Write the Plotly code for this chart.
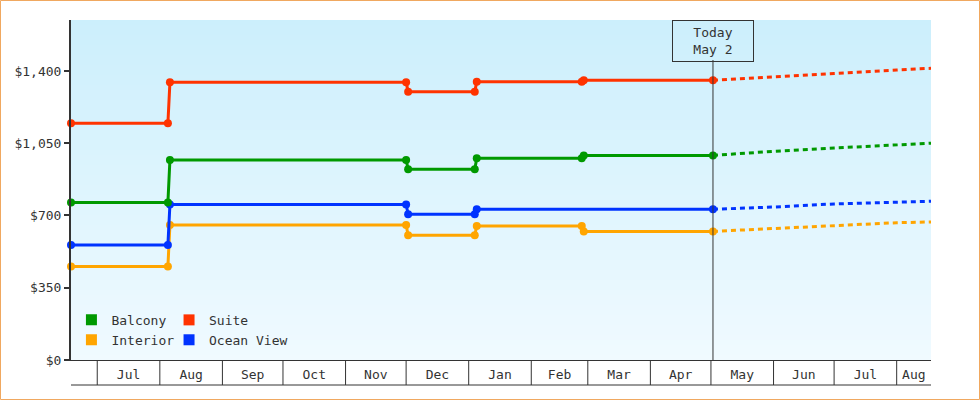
import plotly.graph_objects as go
import pandas as pd

# ---------------- data ----------------
series_names = ["Balcony", "Suite", "Interior", "Ocean View"]
series_colors = ["#009900", "#FF3300", "#FFA500", "#0033FF"]
legend_slot = ["legend", "legend2", "legend", "legend2"]

dates_main = ["2024-06-18", "2024-08-05", "2024-08-06", "2024-12-01", "2024-12-02",
              "2025-01-04", "2025-01-05", "2025-02-26", "2025-02-27", "2025-05-02"]
dates_ocean = ["2024-06-18", "2024-08-05", "2024-08-06", "2024-12-01", "2024-12-02",
               "2025-01-04", "2025-01-05", "2025-05-02"]

balcony_prices = [763, 763, 969, 969, 924, 924, 977, 977, 991, 991]
suite_prices = [1147, 1147, 1345, 1345, 1300, 1300, 1348, 1348, 1355, 1355]
interior_prices = [453, 453, 654, 654, 604, 604, 649, 649, 623, 623]
ocean_prices = [557, 557, 753, 753, 706, 706, 730, 730]

forecast_dates = ["2025-05-02", "2025-06-01", "2025-07-01", "2025-08-01", "2025-08-18"]
balcony_forecast = [991, 1011, 1027, 1042, 1050]
suite_forecast = [1355, 1373, 1388, 1405, 1413]
interior_forecast = [623, 638, 653, 665, 669]
ocean_forecast = [730, 741, 756, 764, 769]

y_tick_values = [0, 350, 700, 1050, 1400]
y_tick_labels = ["$0", "$350", "$700", "$1,050", "$1,400"]

x_start = "2024-06-18"
x_end = "2025-08-18"
today = "2025-05-02"
today_label = "Today<br>May 2"
y_max = 1647

# --------------- figure ----------------
FONT = "DejaVu Sans Mono"
TXT = "#333333"

actual = {
    "Balcony": (dates_main, balcony_prices),
    "Suite": (dates_main, suite_prices),
    "Interior": (dates_main, interior_prices),
    "Ocean View": (dates_ocean, ocean_prices),
}
forecast = {
    "Balcony": balcony_forecast,
    "Suite": suite_forecast,
    "Interior": interior_forecast,
    "Ocean View": ocean_forecast,
}

fig = go.Figure()
draw_order = ["Interior", "Ocean View", "Balcony", "Suite"]
cmap = dict(zip(series_names, series_colors))
for name in draw_order:
    xs, ys = actual[name]
    fig.add_trace(go.Scatter(
        x=xs, y=ys, mode="lines+markers", showlegend=False,
        line=dict(color=cmap[name], width=3),
        marker=dict(color=cmap[name], size=8, symbol="circle"),
        name=name, cliponaxis=False))
    fig.add_trace(go.Scatter(
        x=forecast_dates, y=forecast[name], mode="lines", showlegend=False,
        line=dict(color=cmap[name], width=3, dash="5px,4px"), name=name + " forecast"))

# legend-only swatches
for name, col, lg in zip(series_names, series_colors, legend_slot):
    fig.add_trace(go.Scatter(
        x=[None], y=[None], mode="markers", name=name, legend=lg,
        marker=dict(color=col, size=11, symbol="square", line=dict(width=0))))

# month cells for the x axis
xs_ts = pd.Timestamp(x_start)
xe_ts = pd.Timestamp(x_end)
month_starts = pd.date_range(xs_ts.to_period("M").to_timestamp(), xe_ts, freq="MS")
bounds = [xs_ts] + [m for m in month_starts if m > xs_ts] + [xe_ts]
tickvals, ticktext = [], []
for a, b in zip(bounds[:-1], bounds[1:]):
    if (b - a).days < 15:
        continue
    tickvals.append(a + (b - a) / 2)
    ticktext.append(a.strftime("%b"))

shapes = []
# gradient background
top = (204, 239, 252)
bot = (240, 250, 255)
n = 68
for i in range(n):
    t = i / (n - 1)
    c = tuple(round(top[k] + (bot[k] - top[k]) * t) for k in range(3))
    shapes.append(dict(type="rect", xref="paper", yref="paper",
                       x0=0, x1=1, y0=1 - (i + 1) / n, y1=1 - i / n,
                       fillcolor="rgb(%d,%d,%d)" % c, line=dict(width=0), layer="below"))

cell_h = 25 / 340
for m in month_starts:
    if xs_ts < m < xe_ts:
        shapes.append(dict(type="line", xref="x", yref="paper", x0=m, x1=m,
                           y0=0, y1=-cell_h, line=dict(color=TXT, width=1)))
shapes.append(dict(type="line", xref="paper", yref="paper", x0=0, x1=1,
                   y0=-cell_h, y1=-cell_h, line=dict(color=TXT, width=1)))
# today line
shapes.append(dict(type="line", xref="x", yref="paper", x0=today, x1=today,
                   y0=0, y1=1 - 40 / 340, line=dict(color=TXT, width=1)))
# outer border
shapes.append(dict(type="rect", xref="paper", yref="paper",
                   x0=-70.5 / 860, x1=1 + 48.5 / 860,
                   y0=-39.5 / 340, y1=1 + 19.5 / 340,
                   line=dict(color="#F0A860", width=1), fillcolor="rgba(0,0,0,0)", layer="below"))

legend_common = dict(orientation="v", xanchor="left", yanchor="top",
                     bgcolor="rgba(0,0,0,0)", itemwidth=30, tracegroupgap=0,
                     font=dict(family=FONT, size=13, color=TXT))

fig.update_layout(
    width=980, height=400,
    margin=dict(l=71, r=49, t=20, b=40),
    paper_bgcolor="white", plot_bgcolor="rgba(0,0,0,0)",
    font=dict(family=FONT, size=13, color=TXT),
    shapes=shapes,
    showlegend=True,
    legend=dict(x=0.0005, y=0.162, **legend_common),
    legend2=dict(x=0.114, y=0.162, **legend_common),
    annotations=[dict(x=today, y=1, xref="x", yref="paper", xanchor="center", yanchor="top",
                      text=today_label, showarrow=False, bordercolor=TXT, borderwidth=1,
                      width=78, height=38, font=dict(family=FONT, size=13, color=TXT))],
    hovermode=False,
)
fig.update_xaxes(type="date", range=[x_start, x_end], showgrid=False, zeroline=False,
                 showline=True, linecolor=TXT, linewidth=1, ticks="",
                 tickvals=tickvals, ticktext=ticktext, ticklabelstandoff=2)
fig.update_yaxes(range=[0, y_max], showgrid=False, zeroline=False, showline=True,
                 linecolor=TXT, linewidth=2, ticks="outside", ticklen=5, tickwidth=2,
                 tickcolor=TXT, tickvals=y_tick_values, ticktext=y_tick_labels)

fig.write_html("out.html", config={"displayModeBar": False},
               post_script="document.body.style.margin='0';document.body.style.overflow='hidden';")
